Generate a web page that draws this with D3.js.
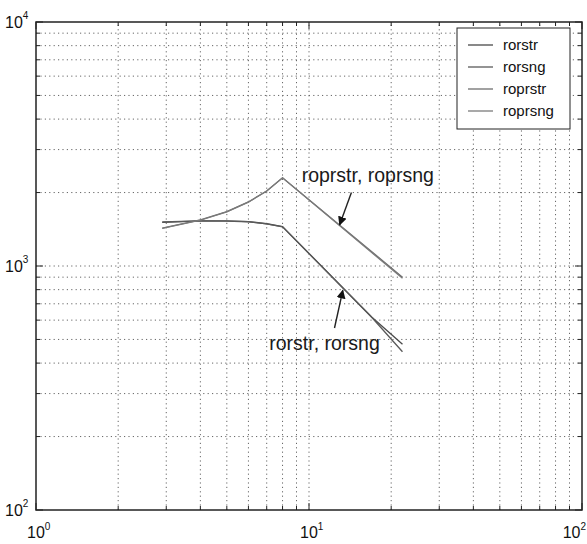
<!DOCTYPE html>
<html>
<head>
<meta charset="utf-8">
<script src="https://cdn.jsdelivr.net/npm/d3@7"></script>
<style>
    body { margin: 0; background: #fff; }
    svg { display: block; font-family: "Liberation Sans", Arial, sans-serif; }
</style>
</head>
<body>
<svg id="chart" width="587" height="544"></svg>
<script>
/* Data */
/* ******************************** */
var xDomain = [1, 100];
var yDomain = [100, 10000];

var rorstrX = [2.9, 4, 5, 6, 7, 8, 17, 22];
var rorstrY = [1510, 1530, 1530, 1520, 1490, 1450, 617, 478];

var rorsngX = [2.9, 4, 5, 6, 7, 8, 17, 22];
var rorsngY = [1515, 1530, 1528, 1518, 1488, 1448, 615, 445];

var roprstrX = [2.9, 4, 5, 6, 7, 8, 22];
var roprstrY = [1430, 1545, 1670, 1830, 2030, 2300, 900];

var roprsngX = [2.9, 4, 5, 6, 7, 8, 22];
var roprsngY = [1425, 1540, 1668, 1828, 2028, 2300, 890];

var seriesNames = ['rorstr', 'rorsng', 'roprstr', 'roprsng'];
var seriesColors = ['#4a4a4a', '#5a5a5a', '#6e6e6e', '#7a7a7a'];

var tickLabelExp = ['0', '1', '2'];
var yTickLabelExp = ['2', '3', '4'];

// annotations: label, text anchor, arrow tail, arrow tip (data coords)
var noteLabels = ['roprstr, roprsng', 'rorstr, rorsng'];
var noteText = [[9.4, 2200], [7.15, 453]];
var noteTail = [[14.3, 2000], [12.4, 557]];
var noteTip = [[12.95, 1475], [13.3, 795]];


/* Layout */
/* ****** */
var svg = d3.select('#chart');
var margin = { left: 36, right: 5, top: 22, bottom: 34 };
var width = +svg.attr('width');
var height = +svg.attr('height');

var x = d3.scaleLog().domain(xDomain).range([margin.left, width - margin.right]);
var y = d3.scaleLog().domain(yDomain).range([height - margin.bottom, margin.top]);

var x0 = x.range()[0], x1 = x.range()[1];
var y0 = y.range()[0], y1 = y.range()[1];

var defs = svg.append('defs');
defs.append('marker')
    .attr('id', 'head')
    .attr('viewBox', '0 0 10 10')
    .attr('refX', 9)
    .attr('refY', 5)
    .attr('markerWidth', 9)
    .attr('markerHeight', 9)
    .attr('markerUnits', 'userSpaceOnUse')
    .attr('orient', 'auto')
    .append('path')
    .attr('d', 'M0,0 L10,5 L0,10 Z')
    .attr('fill', '#111');

// Grid
var gridGroup = svg.append('g').attr('class', 'grid');
gridGroup.selectAll('line.vx')
    .data(x.ticks().filter(function (d) { return d > xDomain[0] && d < xDomain[1]; }))
    .enter().append('line')
    .attr('x1', function (d) { return x(d); })
    .attr('x2', function (d) { return x(d); })
    .attr('y1', y0).attr('y2', y1)
    .attr('stroke', '#666')
    .attr('stroke-width', 1)
    .attr('stroke-dasharray', '1.2,3.2');

gridGroup.selectAll('line.hy')
    .data(y.ticks().filter(function (d) { return d > yDomain[0] && d < yDomain[1]; }))
    .enter().append('line')
    .attr('y1', function (d) { return y(d); })
    .attr('y2', function (d) { return y(d); })
    .attr('x1', x0).attr('x2', x1)
    .attr('stroke', '#666')
    .attr('stroke-width', 1)
    .attr('stroke-dasharray', '1.2,3.2');

// Ticks (inside, all four sides)
var isMajor = function (d) { return Math.abs(Math.log10(d) - Math.round(Math.log10(d))) < 1e-9; };
var tickGroup = svg.append('g').attr('class', 'ticks').attr('stroke', '#222').attr('stroke-width', 1);
x.ticks().forEach(function (d) {
    var len = isMajor(d) ? 7 : 4;
    tickGroup.append('line').attr('x1', x(d)).attr('x2', x(d)).attr('y1', y0).attr('y2', y0 - len);
    tickGroup.append('line').attr('x1', x(d)).attr('x2', x(d)).attr('y1', y1).attr('y2', y1 + len);
});
y.ticks().forEach(function (d) {
    var len = isMajor(d) ? 7 : 4;
    tickGroup.append('line').attr('y1', y(d)).attr('y2', y(d)).attr('x1', x0).attr('x2', x0 + len);
    tickGroup.append('line').attr('y1', y(d)).attr('y2', y(d)).attr('x1', x1).attr('x2', x1 - len);
});

// Axis box
svg.append('rect')
    .attr('x', x0).attr('y', y1)
    .attr('width', x1 - x0).attr('height', y0 - y1)
    .attr('fill', 'none')
    .attr('stroke', '#222')
    .attr('stroke-width', 1.5);

// Tick labels
var labelGroup = svg.append('g').attr('class', 'labels').attr('fill', '#111');
[1, 10, 100].forEach(function (d, i) {
    var last = i === 2;
    var t = labelGroup.append('text')
        .attr('x', last ? width - 1 : x(d) - 9)
        .attr('y', y0 + 28)
        .attr('text-anchor', last ? 'end' : 'start')
        .attr('font-size', 16);
    t.append('tspan').text('10');
    t.append('tspan').attr('font-size', 10).attr('dy', -8).text(tickLabelExp[i]);
});
[100, 1000, 10000].forEach(function (d, i) {
    var t = labelGroup.append('text')
        .attr('x', 5)
        .attr('y', y(d) + 6)
        .attr('font-size', 16);
    t.append('tspan').text('10');
    t.append('tspan').attr('font-size', 10).attr('dy', -9).text(yTickLabelExp[i]);
});

// Series
var seriesData = [
    d3.zip(rorstrX, rorstrY),
    d3.zip(rorsngX, rorsngY),
    d3.zip(roprstrX, roprstrY),
    d3.zip(roprsngX, roprsngY)
];
var line = d3.line()
    .x(function (d) { return x(d[0]); })
    .y(function (d) { return y(d[1]); });

svg.append('g').attr('class', 'series')
    .selectAll('path')
    .data(seriesData)
    .enter().append('path')
    .attr('d', line)
    .attr('fill', 'none')
    .attr('stroke', function (d, i) { return seriesColors[i]; })
    .attr('stroke-width', 1.3);

// Annotations
var noteGroup = svg.append('g').attr('class', 'notes');
noteLabels.forEach(function (label, i) {
    noteGroup.append('text')
        .attr('x', x(noteText[i][0]))
        .attr('y', y(noteText[i][1]))
        .attr('font-size', 19.5)
        .attr('fill', '#1a1a1a')
        .text(label);
    noteGroup.append('line')
        .attr('x1', x(noteTail[i][0])).attr('y1', y(noteTail[i][1]))
        .attr('x2', x(noteTip[i][0])).attr('y2', y(noteTip[i][1]))
        .attr('stroke', '#222')
        .attr('stroke-width', 1.4)
        .attr('marker-end', 'url(#head)');
});

// Legend
var legend = svg.append('g').attr('class', 'legend').attr('transform', 'translate(457,28)');
legend.append('rect')
    .attr('width', 113).attr('height', 101)
    .attr('fill', '#fff')
    .attr('stroke', '#222')
    .attr('stroke-width', 1);
seriesNames.forEach(function (name, i) {
    var ly = 17 + i * 22;
    legend.append('line')
        .attr('x1', 11).attr('x2', 36)
        .attr('y1', ly).attr('y2', ly)
        .attr('stroke', seriesColors[i])
        .attr('stroke-width', 1.3);
    legend.append('text')
        .attr('x', 46).attr('y', ly + 5)
        .attr('font-size', 15)
        .attr('fill', '#111')
        .text(name);
});
</script>
</body>
</html>
